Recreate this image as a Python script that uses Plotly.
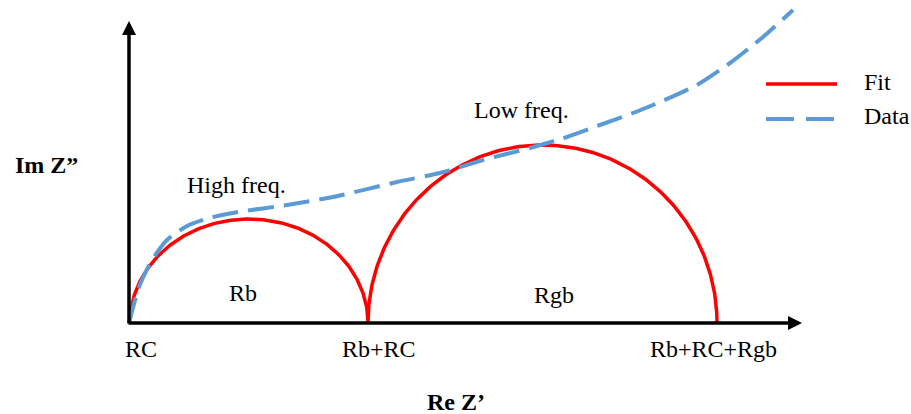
import numpy as np
import plotly.graph_objects as go

# Equivalent-circuit parameters (Re Z' units)
r_contact = 0.01      # RC
r_bulk = 2.38         # Rb
r_grain_boundary = 3.49  # Rgb
arc_heights = [1.04, 1.78]  # peak -Im Z'' of each fitted arc

# Measured impedance spectrum (Re Z', -Im Z'')
data_re = [0.00, 0.10, 0.23, 0.38, 0.58, 0.80, 1.09, 1.58, 2.04, 2.68, 3.11,
           3.54, 4.01, 4.38, 4.71, 5.04, 5.31, 5.68, 6.01, 6.34, 6.64]
data_im = [0.00, 0.36, 0.63, 0.83, 0.97, 1.05, 1.11, 1.18, 1.26, 1.41, 1.50,
           1.63, 1.75, 1.86, 1.98, 2.10, 2.21, 2.38, 2.60, 2.86, 3.13]

# Axis labels along Re Z'
tick_labels = ["RC", "Rb+RC", "Rb+RC+Rgb"]
tick_positions = [0.12, 2.50, 5.84]

SERIF = "Liberation Serif"
RED = "#FF0000"
BLUE = "#5B9BD5"


def arc(start, width, height, n=200):
    """Half-ellipse from start to start+width with the given peak height."""
    t = np.linspace(np.pi, 0, n)
    cx = start + width / 2
    return cx + (width / 2) * np.cos(t), height * np.sin(t)


fig = go.Figure()

x1, y1 = arc(r_contact, r_bulk, arc_heights[0])
x2, y2 = arc(r_contact + r_bulk, r_grain_boundary, arc_heights[1])
fit_x = np.concatenate([x1, [None], x2])
fit_y = np.concatenate([y1, [None], y2])

fig.add_trace(go.Scatter(x=fit_x, y=fit_y, mode="lines", name="Fit",
                         line=dict(color=RED, width=3.5), showlegend=False))
fig.add_trace(go.Scatter(x=data_re, y=data_im, mode="lines", name="Data",
                         line=dict(color=BLUE, width=4, dash="26px,10px",
                                   shape="spline", smoothing=0.6),
                         showlegend=False))

# Axes drawn as arrows
x_end, y_end = 6.73, 3.02
for (tx, ty) in [(x_end, 0), (0, y_end)]:
    fig.add_annotation(x=tx, y=ty, ax=-0.02 if ty == 0 else 0,
                       ay=0 if ty == 0 else -0.02,
                       xref="x", yref="y", axref="x", ayref="y",
                       text="", showarrow=True, arrowhead=2, arrowsize=0.8,
                       arrowwidth=3.5, arrowcolor="black")

font = dict(family=SERIF, size=24, color="black")
bold = dict(family=SERIF, size=24, color="black", weight="bold")

for lbl, pos in zip(tick_labels, tick_positions):
    fig.add_annotation(x=pos, y=-0.26, text=lbl, showarrow=False, font=font,
                       xanchor="center", yanchor="middle")

texts = [("High freq.", 1.07, 1.38), ("Low freq.", 3.92, 2.13),
         ("Rb", 1.14, 0.30), ("Rgb", 4.25, 0.28)]
for t, x, y in texts:
    fig.add_annotation(x=x, y=y, text=t, showarrow=False, font=font,
                       xanchor="center", yanchor="middle")

fig.add_annotation(x=-0.83, y=1.58, text="Im Z\u201d", showarrow=False,
                   font=bold, xanchor="center", yanchor="middle")
fig.add_annotation(x=3.27, y=-0.79, text="Re Z\u2019", showarrow=False,
                   font=bold, xanchor="center", yanchor="middle")

# Legend keys
fig.add_shape(type="line", x0=6.37, x1=7.08, y0=2.39, y1=2.39,
              line=dict(color=RED, width=3.5))
fig.add_shape(type="line", x0=6.37, x1=7.07, y0=2.04, y1=2.04,
              line=dict(color=BLUE, width=4, dash="28px,12px"))
fig.add_annotation(x=7.33, y=2.41, text="Fit", showarrow=False, font=font,
                   xanchor="left", yanchor="middle")
fig.add_annotation(x=7.33, y=2.07, text="Data", showarrow=False, font=font,
                   xanchor="left", yanchor="middle")

fig.update_layout(
    width=911, height=414,
    margin=dict(l=0, r=0, t=0, b=0),
    paper_bgcolor="white", plot_bgcolor="white",
    xaxis=dict(range=[-1.29, 7.82], visible=False, fixedrange=True),
    yaxis=dict(range=[-0.91, 3.23], visible=False, fixedrange=True),
    showlegend=False,
)

fig.write_html("out.html")
